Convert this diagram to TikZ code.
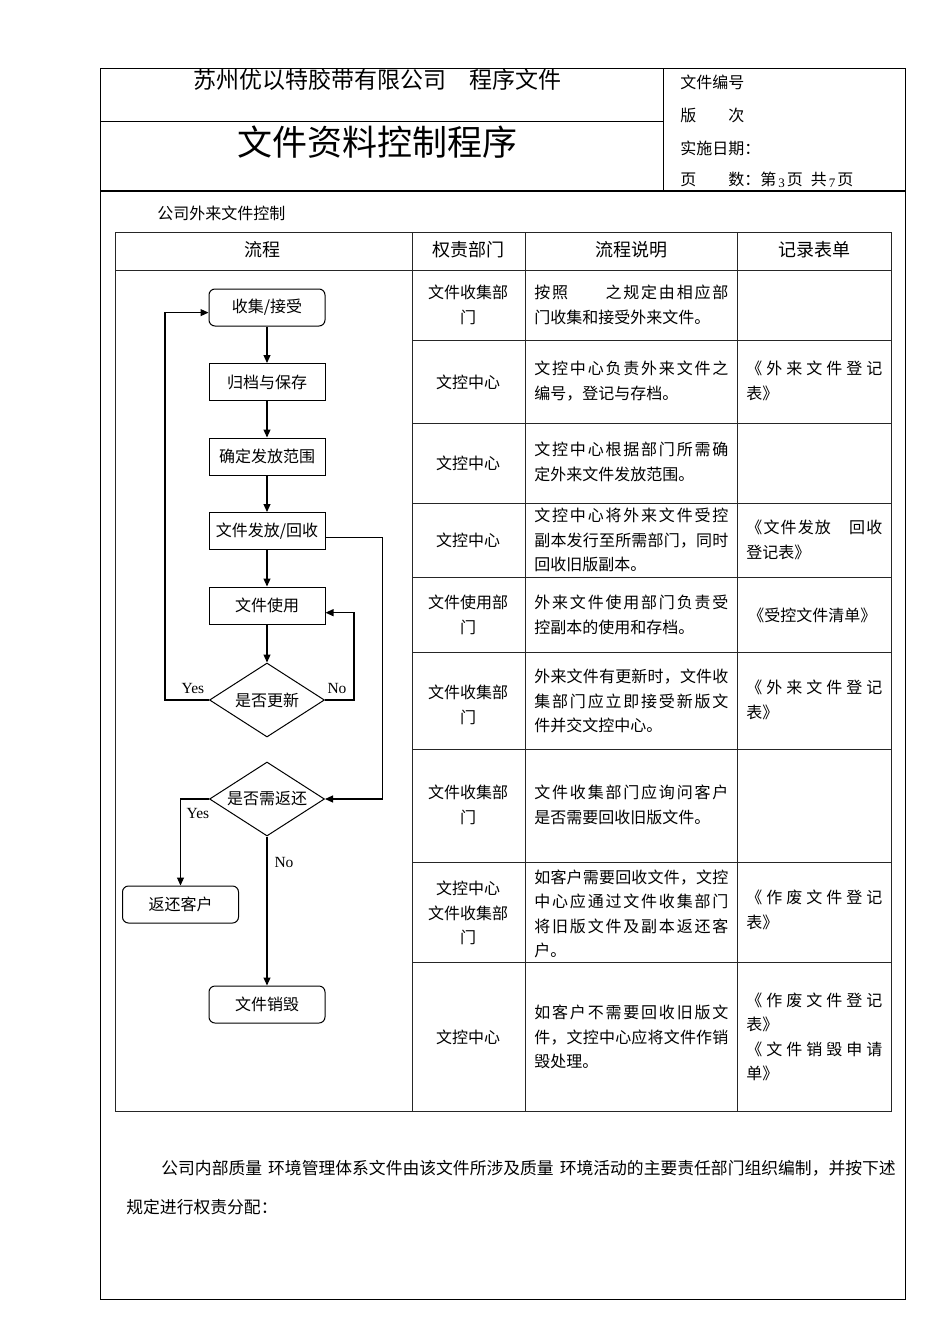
\documentclass[tikz,border=0pt]{standalone}
\usepackage{fontspec}
\setmainfont{Liberation Serif}
\newfontfamily\cjk{Noto Sans CJK SC}
\usetikzlibrary{shapes.geometric,arrows.meta}

% stretch a line of CJK characters to a given width
\def\jnext#1{\ifx#1\relax\else#1\hskip0pt plus1fil\expandafter\jnext\fi}
\newcommand\jline[2]{\makebox[#1][s]{\jnext#2\relax\unskip}}
\newcommand\pgno[1]{\hspace{2pt}{\rmfamily\fontsize{13}{13}\selectfont\raisebox{-2pt}{#1}}\hspace{2pt}}

\tikzset{every picture/.style={line width=0.75pt}}
\tikzset{
  flowbox/.style={draw, line width=1pt, minimum width=116pt, minimum height=37pt, inner sep=0pt, font=\cjk\fontsize{16}{19}\selectfont},
  roundbox/.style={flowbox, rounded corners=6pt},
  decision/.style={draw, diamond, aspect=1.6, line width=1pt, minimum width=115pt, minimum height=74pt, inner sep=0pt, font=\cjk\fontsize{16}{19}\selectfont},
  flowline/.style={line width=1.1pt, -{Triangle[length=8pt,width=7pt]}},
  cell/.style={anchor=west, inner sep=0pt, align=left, font=\cjk\fontsize{16}{24.5}\selectfont},
  dept/.style={inner sep=0pt, align=center, font=\cjk\fontsize{16}{24.5}\selectfont},
  headtext/.style={inner sep=0pt, font=\cjk\fontsize{18}{20}\selectfont},
  plain/.style={anchor=west, inner sep=0pt, font=\cjk\fontsize{16}{18}\selectfont},
  yesno/.style={inner sep=0pt, font=\fontsize{15.5}{18}\selectfont},
  grid/.style={line width=1pt, black!85}
}

\begin{document}
\begin{tikzpicture}[x=1pt,y=1pt,yscale=-1,xscale=1]
\fill[white] (0,0) rectangle (950,1344);
\useasboundingbox (0,0) rectangle (950,1344);

% Page frame and header
\draw[line width=1pt] (100,68) rectangle (905,1299);
\draw (100,121) -- (663,121);
\draw (663,68) -- (663,191);
\draw[line width=2pt] (100,191) -- (905,191);

\node[inner sep=0pt, font=\cjk\fontsize{23}{26}\selectfont] (company) at (377,80) {苏州优以特胶带有限公司\hspace{1em}程序文件};
\node[inner sep=0pt, font=\cjk\fontsize{35}{38}\selectfont] (title) at (377,142) {文件资料控制程序};
\node[plain] (docno) at (680,82) {文件编号};
\node[plain] (version) at (680,115) {版\hspace{2em}次};
\node[plain] (date) at (680,148) {实施日期：};
\node[plain] (pages) at (680,180) {页\hspace{2em}数：第\pgno{3}页\hspace{8pt}共\pgno{7}页};

% Section title
\node[plain] (section) at (157,213) {公司外来文件控制};

% Table grid
\draw[grid] (115,232) rectangle (891,1111);
\draw[grid] (115,270) -- (891,270);
\foreach \x in {412,525,737} \draw[grid] (\x,232) -- (\x,1111);
\foreach \y in {340,423,503,577,652,749,862,962} \draw[grid] (412,\y) -- (891,\y);

% Table header
\node[headtext] (hflow) at (262,250) {流程};
\node[headtext] (hdept) at (468,250) {权责部门};
\node[headtext] (hdesc) at (631,250) {流程说明};
\node[headtext] (hform) at (814,250) {记录表单};

% Row texts
\node[dept] (d1) at (468,305) {文件收集部\\门};
\node[cell] (s1) at (534,305) {\jline{194pt}{按照　　之规定由相应部}\\门收集和接受外来文件。};

\node[dept] (d2) at (468,382) {文控中心};
\node[cell] (s2) at (534,381) {\jline{194pt}{文控中心负责外来文件之}\\编号，登记与存档。};
\node[cell] (r2) at (746,381) {\jline{136pt}{《外来文件登记}\\表》};

\node[dept] (d3) at (468,463) {文控中心};
\node[cell] (s3) at (534,462) {\jline{194pt}{文控中心根据部门所需确}\\定外来文件发放范围。};

\node[dept] (d4) at (468,540) {文控中心};
\node[cell] (s4) at (534,540) {\jline{194pt}{文控中心将外来文件受控}\\\jline{194pt}{副本发行至所需部门，同时}\\回收旧版副本。};
\node[cell] (r4) at (746,540) {\jline{136pt}{《文件发放　回收}\\登记表》};

\node[dept] (d5) at (468,615) {文件使用部\\门};
\node[cell] (s5) at (534,615) {\jline{194pt}{外来文件使用部门负责受}\\控副本的使用和存档。};
\node[cell] (r5) at (748,615) {《受控文件清单》};

\node[dept] (d6) at (468,705) {文件收集部\\门};
\node[cell] (s6) at (534,701) {\jline{194pt}{外来文件有更新时，文件收}\\\jline{194pt}{集部门应立即接受新版文}\\件并交文控中心。};
\node[cell] (r6) at (746,700) {\jline{136pt}{《外来文件登记}\\表》};

\node[dept] (d7) at (468,805) {文件收集部\\门};
\node[cell] (s7) at (534,805) {\jline{194pt}{文件收集部门应询问客户}\\是否需要回收旧版文件。};

\node[dept] (d8) at (468,913) {文控中心\\文件收集部\\门};
\node[cell] (s8) at (534,914) {\jline{194pt}{如客户需要回收文件，文控}\\\jline{194pt}{中心应通过文件收集部门}\\\jline{194pt}{将旧版文件及副本返还客}\\户。};
\node[cell] (r8) at (746,910) {\jline{136pt}{《作废文件登记}\\表》};

\node[dept] (d9) at (468,1037) {文控中心};
\node[cell] (s9) at (534,1037) {\jline{194pt}{如客户不需要回收旧版文}\\\jline{194pt}{件，文控中心应将文件作销}\\毁处理。};
\node[cell] (r9) at (746,1037) {\jline{136pt}{《作废文件登记}\\表》\\\jline{136pt}{《文件销毁申请}\\单》};

% Flow chart
\node[roundbox] (collect) at (267,307.5) {收集/接受};
\node[flowbox] (archive) at (267,382) {归档与保存};
\node[flowbox] (scope) at (267,456.5) {确定发放范围};
\node[flowbox] (issue) at (267,531) {文件发放/回收};
\node[flowbox] (use) at (267,605.5) {文件使用};
\node[decision] (upd) at (267,700) {是否更新};
\node[decision] (ret) at (267,799) {是否需返还};
\node[roundbox] (back) at (180.5,904.5) {返还客户};
\node[roundbox] (destroy) at (267,1004.5) {文件销毁};

\draw[flowline] (collect) -- (archive);
\draw[flowline] (archive) -- (scope);
\draw[flowline] (scope) -- (issue);
\draw[flowline] (issue) -- (use);
\draw[flowline] (use) -- (upd);
\draw[flowline] (upd.west) -- ++(-44,0) |- (collect.185);
\draw[flowline] (upd.east) -- ++(29,0) |- (use.-7);
\draw[flowline] (issue.-6) -- ++(57,0) |- (ret.east);
\draw[flowline] (ret.west) -| (back.north);
\draw[flowline] (ret) -- (destroy);

\node[yesno] (yes1) at (193,688) {Yes};
\node[yesno] (no1) at (337,688) {No};
\node[yesno] (yes2) at (198,813) {Yes};
\node[yesno] (no2) at (284,862) {No};

% Closing paragraph
\node[plain, font=\cjk\fontsize{16.8}{18}\selectfont] (para1) at (161,1168) {公司内部质量\hspace{6pt}环境管理体系文件由该文件所涉及质量\hspace{6pt}环境活动的主要责任部门组织编制，并按下述};
\node[plain, font=\cjk\fontsize{16.8}{18}\selectfont] (para2) at (126,1207) {规定进行权责分配：};

\end{tikzpicture}
\end{document}
